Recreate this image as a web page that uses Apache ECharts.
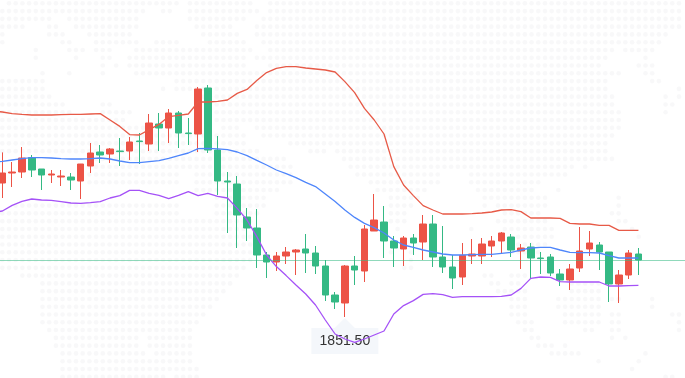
<!DOCTYPE html>
<html>
<head>
<meta charset="utf-8">
<style>
html, body { margin: 0; padding: 0; background: #fff; overflow: hidden; width: 685px; height: 378px; }
/* chart box runs past the left edge so the first band point can sit off screen */
#main { position: absolute; left: -13px; top: 0; width: 706px; height: 378px; }
</style>
<script src="https://cdn.jsdelivr.net/npm/echarts@6/dist/echarts.min.js"></script>
</head>
<body>
<div id="main"></div>
<script>
// [open, close, low, high]
const candles = [
    [1918.5,1923.5,1911,1933.8],[1923.5,1924,1916.5,1929],[1924,1931,1921,1936.5],[1931.2,1925,1921.5,1932.5],
    [1925.5,1922.5,1915,1925.5],[1922.5,1923,1918.5,1925],[1921.5,1922,1917,1925],[1921.5,1920,1915,1923.5],
    [1919.5,1928,1910.5,1928],[1927,1933.5,1923.5,1938.5],[1934,1932.5,1928.5,1937.5],[1933,1935.5,1928.5,1936],
    [1934.5,1934.2,1927,1941],[1934.5,1939,1930,1941.5],[1939.5,1939.2,1928,1943.5],[1938,1948.5,1934.5,1953],
    [1948,1946,1934.5,1953.5],[1946,1953.5,1938.5,1955.5],[1953.5,1943.5,1936,1954.5],[1943.5,1943.2,1937.5,1951],
    [1943,1965.5,1934,1966.5],[1966,1935,1933.5,1967.5],[1935,1919.5,1912.5,1942],[1919.5,1919,1893.5,1924],
    [1918,1902.5,1886,1922],[1901.5,1896,1889.5,1906],[1896,1882.5,1876,1905.5],[1882.5,1879,1871,1884],
    [1879,1882,1874.5,1884],[1882,1884,1878,1886.5],[1884,1885,1872.5,1885.5],[1885.5,1883.5,1873.5,1893],
    [1883.5,1877,1873,1887],[1877,1862.5,1859.5,1880],[1862.5,1859,1855.5,1864],[1858.5,1877,1851.5,1877.5],
    [1877,1875,1867.5,1882],[1874.5,1895.5,1869,1897.5],[1894.5,1900,1894.5,1913],[1899,1889.5,1881,1907],
    [1889.5,1886,1876.5,1892],[1885.5,1891,1877,1892],[1891,1888.5,1882.5,1893],[1889,1898,1880,1902.5],
    [1898,1881.5,1876.5,1902.5],[1881.5,1876.5,1873.5,1897],[1876.5,1871,1865.5,1882.5],[1871.5,1882.3,1867.5,1888.5],
    [1882,1883,1878,1890.5],[1882,1888,1878,1891],[1887,1889.5,1881.5,1892],[1889.5,1893.5,1883,1894],
    [1891.5,1885,1881.5,1893],[1884.5,1886,1875.5,1888],[1886.5,1881,1870.5,1888.5],[1881,1880.7,1873,1884],
    [1881.5,1873.5,1872,1883],[1873,1870,1867,1875.5],[1870,1875.5,1865,1878],[1876,1884.5,1874,1896.5],
    [1885.5,1888.5,1882,1894.5],[1887.5,1884,1875,1889],[1884,1868,1859,1884],[1868,1872.5,1858.5,1875],
    [1872.5,1883.5,1870.5,1885],[1883,1880,1872.5,1886]
];

const upperBand = [1954.5,1954,1953.2,1952.8,1952.5,1952.5,1952.5,1952.7,1952.8,1952.8,1953,1953.2,1950,1946.8,1942.7,1942.5,1945.2,1947.8,1951.7,1952.3,1953,1959,1959,1959.3,1960,1963.3,1965.3,1969.7,1973.7,1975.8,1976.7,1976.7,1976,1975.5,1975,1974,1969.2,1963.7,1955.8,1950,1943,1926.7,1917.5,1912.2,1907.2,1905,1903,1903,1903,1903.2,1903.5,1904,1905,1905.2,1904.2,1901,1901,1901,1900.8,1898.3,1898,1898,1897.3,1897.3,1894.8,1894.8,1894.8];
const middleBand = [1929,1929.3,1930,1930.7,1931.2,1931.2,1931,1930.7,1930.5,1930.5,1930.7,1931,1930.5,1929.5,1928.7,1928.7,1929.2,1929.7,1930.8,1932.2,1933.5,1935.7,1935.8,1935.6,1935.2,1934,1932.2,1929.8,1927.5,1925,1923.2,1921.2,1918.8,1916.7,1913,1909.2,1905,1901.3,1898.3,1896.2,1893.5,1890,1887.5,1886.3,1885,1884,1883,1882.5,1882.5,1882.7,1882.8,1882.8,1883.3,1883.8,1885,1886,1886.3,1886.3,1885,1883.8,1883.7,1883.7,1883.5,1882.2,1881,1881,1881];
const lowerBand = [1903.7,1904.5,1907.3,1909.3,1910.5,1910,1909.8,1909.2,1908.5,1908.3,1908.7,1909.2,1911,1912.2,1914.8,1914.8,1913.3,1912.3,1910.7,1912.3,1914.2,1912.2,1913.3,1911.8,1911,1905.8,1900,1891.7,1882.5,1876.7,1872.2,1867.5,1863,1857.5,1850,1843,1840.5,1838.8,1840.5,1842.5,1844.5,1853,1857.2,1859.7,1862.8,1863.2,1862.7,1861.3,1861.7,1861.7,1861.7,1861.7,1861.8,1862.5,1865.8,1870.8,1871.5,1871.3,1869.2,1869,1869,1869,1869,1867,1867,1867.2,1867.3];

const lastPrice = 1880;
const lowPrice = 1851.5;
const lowIndex = 36;
const lowLabel = '1851.50';

// background dot map, one list of [first, last] column per dot row
const mapRows = [
    [[1,26],[28,37],[40,102]],
    [[0,21],[24,25],[28,38],[40,102]],
    [[0,7],[10,20],[28,36],[39,102]],
    [[0,3],[7,8],[11,20],[29,34],[38,101]],
    [[0,0],[7,9],[13,19],[30,35],[38,99]],
    [[0,0],[9,10],[14,20],[23,26],[31,36],[39,98]],
    [[5,5],[10,12],[14,16],[20,37],[40,91],[93,97]],
    [[5,5],[11,11],[15,16],[19,36],[38,90],[96,96]],
    [[15,15],[17,17],[19,36],[40,89],[95,97]],
    [[6,6],[10,10],[15,15],[20,37],[38,92],[96,97]],
    [[0,6],[26,90],[97,98]],
    [[0,6],[24,24],[26,90],[101,102]],
    [[0,7],[30,91],[99,99],[101,102]],
    [[0,9],[15,16],[32,91],[99,100]],
    [[0,10],[15,19],[32,92],[99,99]],
    [[0,18],[32,92]],
    [[0,22],[33,35],[38,92]],
    [[0,36],[39,91]],
    [[0,36],[43,90]],
    [[0,38],[46,48],[50,90]],
    [[14,42],[51,91]],
    [[13,43],[52,85],[87,87]],
    [[13,26],[29,43],[53,65],[70,84]],
    [[13,26],[29,43],[55,65],[70,80]],
    [[29,41],[56,63],[71,79],[83,83]],
    [[32,39],[58,62],[72,81],[92,92]],
    [[2,26],[32,39],[58,61],[72,72],[74,81],[92,92]],
    [[0,26],[32,38],[58,60],[75,80],[91,92]],
    [[0,37],[58,60],[74,81],[92,93]],
    [[0,36],[59,59],[70,70],[75,82],[94,94]],
    [[0,37],[76,82],[95,95]],
    [[0,37],[76,81]],
    [[0,37],[58,58],[61,61],[76,80]],
    [[0,37],[61,61]],
    [[0,36],[60,61]],
    [[3,35],[72,73],[76,78]],
    [[6,34],[73,74],[76,77],[85,89]],
    [[6,33],[74,75],[76,78],[85,89]],
    [[6,32],[76,78],[83,89],[91,92],[97,97]],
    [[6,31],[76,78],[83,89],[97,97]],
    [[6,30],[76,78],[84,89],[91,92],[100,101]],
    [[6,29],[77,79],[84,89],[91,92],[101,101]],
    [[7,28],[78,79],[87,88],[91,92],[101,102]],
    [[8,20],[22,28],[79,80],[91,91],[93,93]],
    [[8,20],[22,28],[80,82],[84,84]],
    [[9,21],[23,28],[82,86],[96,96]],
    [[9,28],[89,89],[95,95]],
    [[9,29],[94,94]],
    [[9,24],[26,29],[99,100]]
];

function getMapDots() {
    let dots = [];
    mapRows.forEach((spans, row) => {
        spans.forEach(span => {
            for (let col = span[0]; col <= span[1]; col++) {
                dots.push([col, row]);
            }
        });
    });
    return dots;
}

window.onload = function () {
    setChart();
}

function setChart() {
    let myChart = echarts.init(document.querySelector('#main'));
    // first slot sits off the left edge, the last ones stay empty
    let categories = [];
    for (let i = 0; i < 72; i++) {
        categories.push(String(i));
    }
    let bandStyle = { width: 1.3 };
    let option = {
        animation: false,
        backgroundColor: '#fff',
        grid: [
            { left: 0.72, top: 0, width: 704.52, height: 378 },
            { left: 13, top: 0, width: 685, height: 378 }
        ],
        xAxis: [
            { type: 'category', data: categories, gridIndex: 0, show: false },
            { type: 'value', gridIndex: 1, show: false, min: -0.343, max: 101.9 }
        ],
        yAxis: [
            { type: 'value', gridIndex: 0, show: false, min: 1821, max: 2010 },
            { type: 'value', gridIndex: 1, show: false, inverse: true, min: -0.424, max: 48.16 }
        ],
        series: [
            {
                type: 'scatter',
                xAxisIndex: 1,
                yAxisIndex: 1,
                data: getMapDots(),
                symbolSize: 4.6,
                itemStyle: { color: '#f6f6f7' },
                silent: true,
                z: 0
            },
            {
                type: 'candlestick',
                data: [['-', '-', '-', '-']].concat(candles),
                barWidth: 7,
                itemStyle: {
                    color: '#ec5346',
                    color0: '#34b984',
                    borderColor: '#ec5346',
                    borderColor0: '#34b984',
                    borderWidth: 1
                },
                markLine: {
                    silent: true,
                    symbol: 'none',
                    label: { show: false },
                    lineStyle: { color: '#34b984', type: 'solid', width: 1, opacity: 0.55 },
                    data: [{ yAxis: lastPrice }],
                    z: 8
                },
                markPoint: {
                    silent: true,
                    z: 1,
                    symbol: 'path://M33.5 0 L43.5 10 L67 10 L67 36 L0 36 L0 10 L23.5 10 Z',
                    symbolSize: [67, 36],
                    symbolOffset: [0, 19],
                    itemStyle: { color: '#f4f7fb' },
                    label: {
                        position: 'inside',
                        offset: [0, 5],
                        formatter: lowLabel,
                        fontFamily: 'Liberation Sans',
                        fontSize: 14,
                        color: '#333'
                    },
                    data: [{ coord: [String(lowIndex), lowPrice] }]
                }
            },
            {
                type: 'line', data: upperBand, symbol: 'none', silent: true,
                lineStyle: Object.assign({ color: '#e75a47' }, bandStyle)
            },
            {
                type: 'line', data: middleBand, symbol: 'none', silent: true,
                lineStyle: Object.assign({ color: '#4f86fb' }, bandStyle)
            },
            {
                type: 'line', data: lowerBand, symbol: 'none', silent: true,
                lineStyle: Object.assign({ color: '#a552f7' }, bandStyle)
            }
        ]
    };
    myChart.setOption(option);
}
</script>
</body>
</html>
